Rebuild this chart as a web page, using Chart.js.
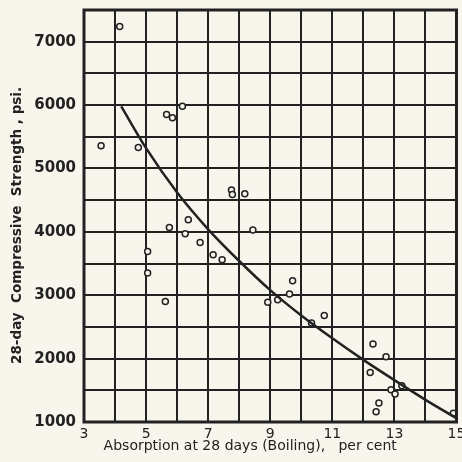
<!DOCTYPE html>
<html>
<head>
<meta charset="utf-8">
<script src="https://cdn.jsdelivr.net/npm/chart.js@4"></script>
<style>
html,body{margin:0;padding:0;background:#f7f5ec;}
#wrap{width:462px;height:462px;position:relative;}
</style>
</head>
<body>
<div id="wrap"><canvas id="c" width="462" height="462"></canvas></div>
<script>
// Observed specimens
const absorption = [4.15, 3.55, 4.75, 5.66, 5.85, 6.17, 7.75, 7.78, 8.18, 6.36, 5.75, 6.26, 8.44, 5.05, 6.74, 7.16, 7.45, 5.05, 5.62, 8.92, 9.72, 9.62, 9.24, 10.33, 10.74, 12.31, 12.73, 12.22, 12.89, 13.24, 13.02, 12.5, 12.41, 14.9];
const strength   = [7240, 5360, 5330, 5850, 5800, 5980, 4660, 4590, 4600, 4190, 4070, 3970, 4030, 3690, 3830, 3640, 3560, 3350, 2900, 2890, 3230, 3020, 2930, 2560, 2680, 2230, 2030, 1780, 1510, 1570, 1440, 1300, 1160, 1140];
// Fitted curve
const curveX = [4.2, 5, 6, 7, 8, 9, 10, 11, 12, 13, 14, 15];
const curveY = [5980, 5320, 4620, 4040, 3540, 3080, 2680, 2320, 1980, 1660, 1350, 1060];
// Tick labels
const xTickLabels = [3, 5, 7, 9, 11, 13, 15];
const yTickLabels = [1000, 2000, 3000, 4000, 5000, 6000, 7000];

const ink = '#222';
const bg = '#f7f5ec';

const bgPlugin = {
  id: 'bg',
  beforeDraw(chart) {
    const ctx = chart.ctx;
    ctx.save();
    ctx.fillStyle = bg;
    ctx.fillRect(0, 0, chart.width, chart.height);
    ctx.restore();
  },
  afterDatasetsDraw(chart) {
    const a = chart.chartArea, ctx = chart.ctx;
    ctx.save();
    ctx.strokeStyle = ink;
    ctx.lineWidth = 3;
    ctx.strokeRect(a.left, a.top, a.right - a.left, a.bottom - a.top);
    ctx.restore();
  }
};

new Chart(document.getElementById('c'), {
  type: 'scatter',
  data: {
    datasets: [
      {
        label: 'curve',
        data: curveX.map((x, i) => ({x, y: curveY[i]})),
        showLine: true,
        borderColor: ink,
        borderWidth: 2.5,
        pointRadius: 0,
        cubicInterpolationMode: 'monotone',
        fill: false
      },
      {
        label: 'specimens',
        data: absorption.map((x, i) => ({x, y: strength[i]})),
        pointRadius: 3,
        pointBorderWidth: 1.5,
        pointBorderColor: ink,
        pointBackgroundColor: bg
      }
    ]
  },
  options: {
    responsive: false,
    animation: false,
    layout: {padding: {top: 10, right: 3, left: 0, bottom: 7}},
    plugins: {legend: {display: false}, tooltip: {enabled: false}},
    scales: {
      x: {
        type: 'linear', min: 3, max: 15,
        afterFit(s) { s.height = 33; s.paddingRight = 0; s.paddingLeft = 0; },
        ticks: {
          stepSize: 1, color: ink, padding: 4, maxRotation: 0, autoSkip: false,
          font: {family: 'DejaVu Sans', size: 14},
          callback: v => xTickLabels.includes(v) ? String(v) : ''
        },
        grid: {color: ink, lineWidth: 2, drawTicks: false},
        border: {display: false},
        title: {
          display: true,
          text: 'Absorption at 28 days (Boiling),   per cent' + '         ',
          color: ink, padding: {top: 0, bottom: 0},
          font: {family: 'DejaVu Sans', size: 14}
        }
      },
      y: {
        type: 'linear', min: 1000, max: 7500,
        afterFit(s) { s.width = 84; s.paddingTop = 0; s.paddingBottom = 0; },
        ticks: {
          stepSize: 500, color: ink, padding: 8,
          font: {family: 'DejaVu Sans', size: 15, weight: 'bold'},
          callback: v => yTickLabels.includes(v) ? String(v) : ''
        },
        grid: {color: ink, lineWidth: 2, drawTicks: false},
        border: {display: false},
        title: {
          display: true,
          text: '28-day  Compressive  Strength , psi.' + '    ',
          color: ink, padding: {top: 9, bottom: 0},
          font: {family: 'DejaVu Sans', size: 13.5, weight: 'bold'}
        }
      }
    }
  },
  plugins: [bgPlugin]
});
</script>
</body>
</html>
